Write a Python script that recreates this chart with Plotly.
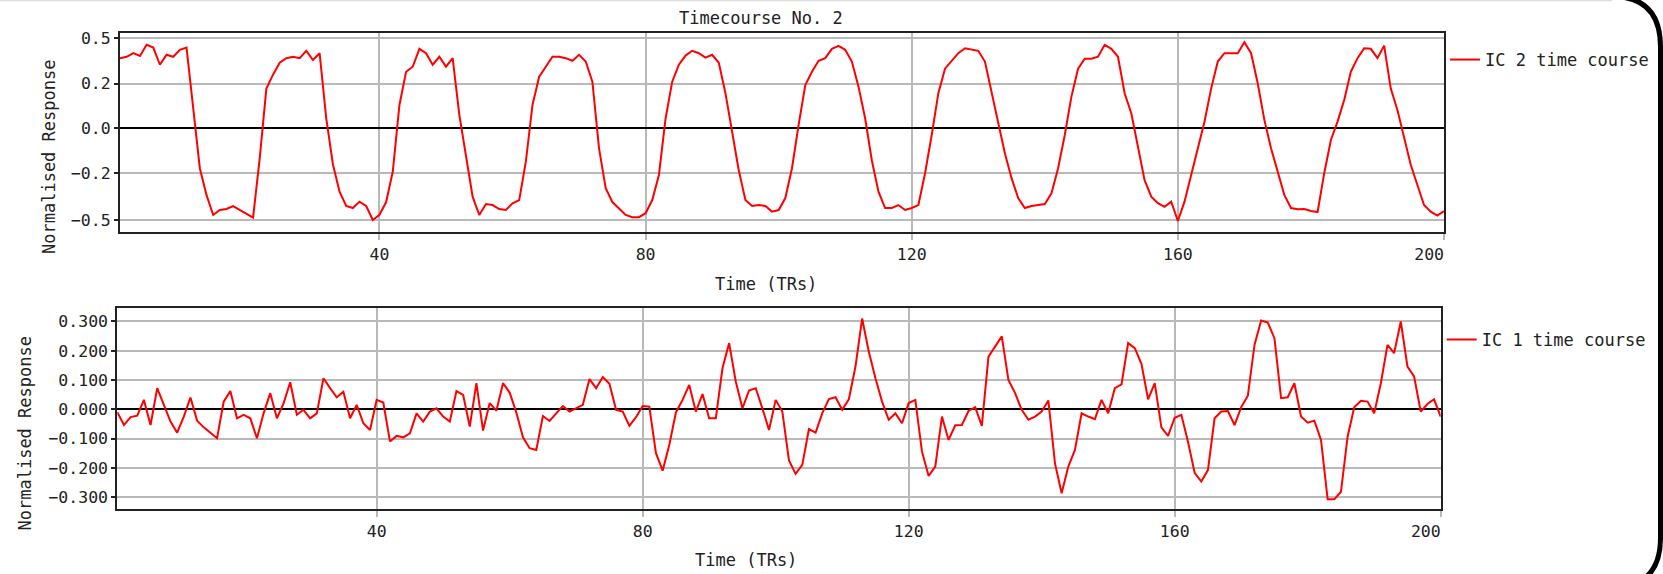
import plotly.graph_objects as go

# ---------------- data ----------------
tr = list(range(1, 201))

ic2_time_course = [
    0.353, 0.36, 0.378, 0.364, 0.42, 0.406, 0.32, 0.37, 0.36, 0.395,
    0.406, 0.11, -0.20, -0.334, -0.435, -0.41, -0.405, -0.39, -0.41, -0.426,
    -0.448, -0.15, 0.20, 0.27, 0.33, 0.353, 0.36, 0.353, 0.39, 0.344,
    0.378, 0.05, -0.18, -0.318, -0.39, -0.40, -0.368, -0.39, -0.46, -0.434,
    -0.37, -0.217, 0.118, 0.285, 0.31, 0.40, 0.378, 0.32, 0.36, 0.31,
    0.353, 0.068, -0.133, -0.343, -0.435, -0.38, -0.385, -0.405, -0.41, -0.376,
    -0.36, -0.167, 0.118, 0.26, 0.31, 0.36, 0.36, 0.353, 0.34, 0.37,
    0.336, 0.235, -0.10, -0.30, -0.37, -0.40, -0.435, -0.446, -0.446, -0.426,
    -0.36, -0.234, 0.05, 0.235, 0.32, 0.366, 0.39, 0.378, 0.356, 0.37,
    0.33, 0.177, -0.007, -0.21, -0.36, -0.39, -0.385, -0.39, -0.418, -0.41,
    -0.35, -0.20, 0.018, 0.218, 0.285, 0.34, 0.353, 0.40, 0.415, 0.395,
    0.336, 0.21, 0.05, -0.16, -0.318, -0.40, -0.40, -0.385, -0.41, -0.40,
    -0.385, -0.225, -0.033, 0.177, 0.30, 0.34, 0.378, 0.403, 0.396, 0.39,
    0.336, 0.185, 0.034, -0.125, -0.25, -0.35, -0.40, -0.39, -0.385, -0.38,
    -0.326, -0.20, -0.033, 0.16, 0.30, 0.35, 0.35, 0.36, 0.42, 0.40,
    0.36, 0.177, 0.076, -0.09, -0.26, -0.343, -0.376, -0.394, -0.368, -0.465,
    -0.368, -0.234, -0.10, 0.034, 0.20, 0.336, 0.378, 0.378, 0.378, 0.433,
    0.378, 0.227, 0.043, -0.10, -0.217, -0.334, -0.40, -0.406, -0.405, -0.415,
    -0.42, -0.225, -0.058, 0.034, 0.143, 0.285, 0.353, 0.403, 0.40, 0.353,
    0.416, 0.20, 0.093, -0.05, -0.183, -0.284, -0.385, -0.418, -0.438, -0.415,
]

ic1_time_course = [
    -0.01, -0.054, -0.027, -0.022, 0.032, -0.054, 0.072, 0.018, -0.042, -0.08,
    -0.025, 0.04, -0.039, -0.062, -0.079, -0.099, 0.026, 0.062, -0.031, -0.019,
    -0.031, -0.099, -0.014, 0.055, -0.031, 0.02, 0.092, -0.019, -0.002, -0.031,
    -0.014, 0.106, 0.072, 0.041, 0.06, -0.031, 0.015, -0.048, -0.071, 0.032,
    0.023, -0.11, -0.091, -0.096, -0.082, -0.014, -0.042, -0.008, 0.003, -0.025,
    -0.042, 0.062, 0.049, -0.059, 0.089, -0.073, 0.021, -0.005, 0.089, 0.057,
    -0.011, -0.096, -0.133, -0.139, -0.023, -0.04, -0.014, 0.011, -0.008, 0.003,
    0.015, 0.103, 0.072, 0.11, 0.087, -0.002, -0.008, -0.057, -0.027, 0.011,
    0.009, -0.15, -0.21, -0.122, -0.011, 0.032, 0.083, -0.008, 0.052, -0.031,
    -0.031, 0.14, 0.226, 0.095, 0.003, 0.064, 0.072, 0.003, -0.071, 0.032,
    -0.008, -0.175, -0.221, -0.19, -0.068, -0.08, -0.014, 0.035, 0.041, -0.002,
    0.034, 0.146, 0.31, 0.197, 0.106, 0.026, -0.036, -0.014, -0.048, 0.021,
    0.032, -0.145, -0.228, -0.196, -0.025, -0.105, -0.055, -0.054, -0.006, 0.007,
    -0.057, 0.18, 0.214, 0.249, 0.1, 0.055, -0.002, -0.036, -0.025, -0.008,
    0.03, -0.185, -0.287, -0.196, -0.139, -0.014, -0.025, -0.034, 0.032, -0.014,
    0.072, 0.085, 0.226, 0.209, 0.155, 0.034, 0.089, -0.062, -0.091, -0.029,
    -0.019, -0.111, -0.217, -0.247, -0.208, -0.031, -0.008, -0.006, -0.054, 0.007,
    0.046, 0.22, 0.303, 0.296, 0.243, 0.038, 0.041, 0.089, -0.025, -0.046,
    -0.039, -0.105, -0.308, -0.308, -0.282, -0.094, 0.007, 0.029, 0.026, -0.014,
    0.089, 0.22, 0.192, 0.3, 0.146, 0.112, -0.008, 0.018, 0.034, -0.025,
]

x_tickvals = [40, 80, 120, 160, 200]
x_ticktext = ["40", "80", "120", "160", "200\u00a0\u00a0\u00a0"]
top_tickvals = [-0.46, -0.225, 0.0, 0.225, 0.453]
top_ticktext = ["\u22120.5", "\u22120.2", "0.0", "0.2", "0.5"]
bot_tickvals = [-0.3, -0.2, -0.1, 0.0, 0.1, 0.2, 0.3]
bot_ticktext = ["\u22120.300", "\u22120.200", "\u22120.100", "0.000", "0.100", "0.200", "0.300"]

# ---------------- layout helpers ----------------
W, H = 1663, 574
FONT = "DejaVu Sans Mono"
TXT = "#222222"
GRID = "#b9b9b9"


def px(x):
    return x / W


def py(y):
    return 1 - y / H


fig = go.Figure()
fig.add_trace(go.Scatter(x=tr, y=ic2_time_course, mode="lines",
                         line=dict(color="#ff0000", width=2),
                         name="IC 2 time course", xaxis="x", yaxis="y",
                         legend="legend"))
fig.add_trace(go.Scatter(x=tr, y=ic1_time_course, mode="lines",
                         line=dict(color="#ff0000", width=2),
                         name="IC 1 time course", xaxis="x2", yaxis="y2",
                         legend="legend2"))

tickfont = dict(family=FONT, size=16.5, color=TXT)


def xax(domain, anchor):
    return dict(domain=domain, anchor=anchor, range=[1, 200],
                tickmode="array", tickvals=x_tickvals, ticktext=x_ticktext,
                showgrid=True, gridcolor=GRID, gridwidth=1.5,
                ticks="outside", ticklen=6, tickcolor=GRID, tickwidth=1.5,
                showline=True, linecolor=TXT, linewidth=2, mirror=True,
                zeroline=False, tickfont=tickfont, automargin=False,
                fixedrange=True)


def yax(domain, anchor, rng, tv, tt):
    return dict(domain=domain, anchor=anchor, range=rng,
                tickmode="array", tickvals=tv, ticktext=tt,
                showgrid=True, gridcolor=GRID, gridwidth=1.5,
                ticks="outside", ticklen=4, tickcolor=TXT, tickwidth=1.5,
                showline=True, linecolor=TXT, linewidth=2, mirror=True,
                zeroline=True, zerolinecolor="#000000", zerolinewidth=1.6,
                tickfont=tickfont, automargin=False, fixedrange=True)


legfont = dict(family=FONT, size=17, color=TXT)

# frame decoration (rounded card border at the right)
fx = 1660.5
frame_pts = [
    ("M", [(1612, -3.5)]),
    ("Q", [(fx, -3.5), (fx, 47)]),
    ("L", [(fx, 538)]),
    ("Q", [(fx, 588), (1610, 588)]),
    ("L", [(1560, 588)]),
]
frame_path = " ".join(
    cmd + " " + " ".join(f"{px(x):.6f},{py(y):.6f}" for x, y in pts)
    for cmd, pts in frame_pts
)

fig.update_layout(
    width=W, height=H, autosize=False,
    margin=dict(l=0, r=0, t=0, b=0, pad=0),
    paper_bgcolor="white", plot_bgcolor="white",
    font=dict(family=FONT, size=17, color=TXT),
    xaxis=xax([px(120), px(1444)], "y"),
    yaxis=yax([py(232.3), py(33.3)], "x", [-0.522, 0.478], top_tickvals, top_ticktext),
    xaxis2=xax([px(117.3), px(1440.7)], "y2"),
    yaxis2=yax([py(509.3), py(308.3)], "x2", [-0.342, 0.345], bot_tickvals, bot_ticktext),
    legend=dict(x=px(1445), y=py(60), xanchor="left", yanchor="middle",
                font=legfont, bgcolor="rgba(0,0,0,0)", borderwidth=0,
                itemwidth=30),
    legend2=dict(x=px(1441.7), y=py(340), xanchor="left", yanchor="middle",
                 font=legfont, bgcolor="rgba(0,0,0,0)", borderwidth=0,
                 itemwidth=30),
    showlegend=True,
    annotations=[
        dict(text="Timecourse No. 2", x=px(761), y=py(18), xref="paper", yref="paper",
             xanchor="center", yanchor="middle", showarrow=False,
             font=dict(family=FONT, size=17, color=TXT)),
        dict(text="Time (TRs)", x=px(766), y=py(284), xref="paper", yref="paper",
             xanchor="center", yanchor="middle", showarrow=False,
             font=dict(family=FONT, size=17, color=TXT)),
        dict(text="Time (TRs)", x=px(746), y=py(560), xref="paper", yref="paper",
             xanchor="center", yanchor="middle", showarrow=False,
             font=dict(family=FONT, size=17, color=TXT)),
        dict(text="Normalised Response", x=px(48.5), y=py(157.5), xref="paper", yref="paper",
             xanchor="center", yanchor="middle", showarrow=False, textangle=-90,
             font=dict(family=FONT, size=17, color=TXT)),
        dict(text="Normalised Response", x=px(24.5), y=py(434), xref="paper", yref="paper",
             xanchor="center", yanchor="middle", showarrow=False, textangle=-90,
             font=dict(family=FONT, size=17, color=TXT)),
    ],
    shapes=[
        dict(type="line", xref="paper", yref="paper", x0=0, x1=px(1612),
             y0=py(0.5), y1=py(0.5), line=dict(color="#dddddd", width=1.5)),
        dict(type="path", xref="paper", yref="paper", path=frame_path,
             line=dict(color="#000000", width=5)),
    ],
)

fig.write_html("out.html", config={"displayModeBar": False},
               post_script="document.body.style.margin='0';document.body.style.overflow='hidden';")
